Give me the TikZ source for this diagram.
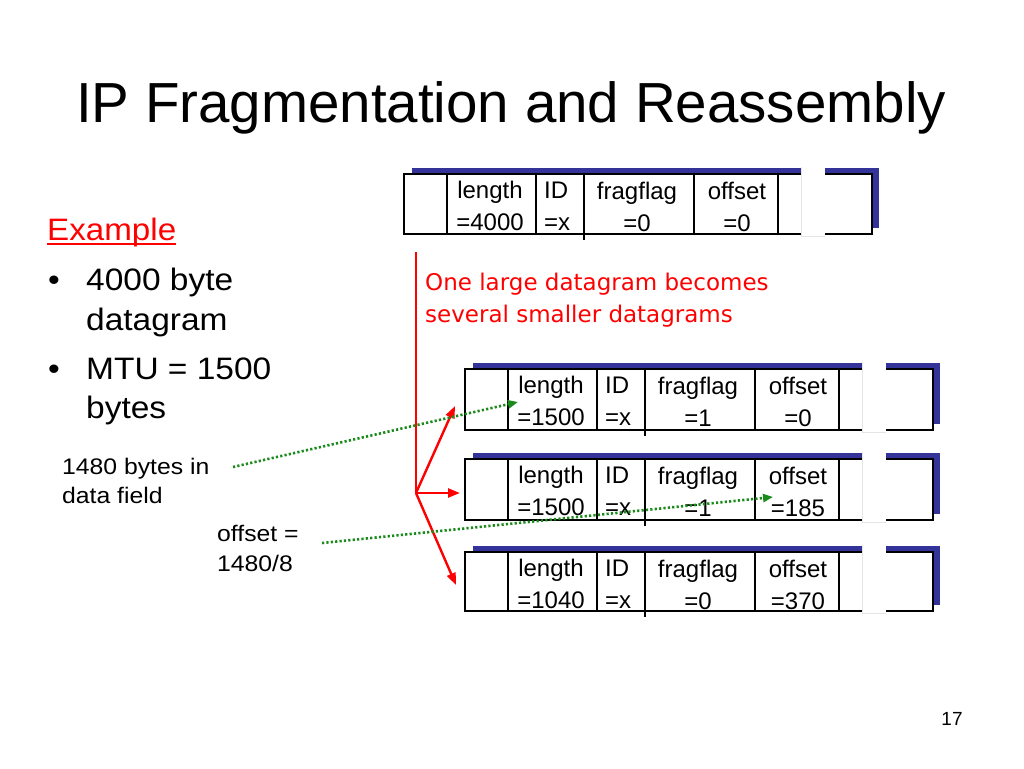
\documentclass[tikz,border=0pt]{standalone}
\usepackage{fontspec}
\setmainfont{Liberation Sans}
\newfontfamily\comicfont{DejaVu Sans}
\usetikzlibrary{arrows.meta}
\definecolor{shadowblue}{HTML}{333399}
\definecolor{dgreen}{HTML}{1A8A1A}
\definecolor{myred}{HTML}{FF0000}
\tikzset{
  boxline/.style={black, line width=2.4pt},
  field/.style={inner sep=0pt, anchor=base, font=\fontsize{24}{24}\selectfont},
  fieldl/.style={inner sep=0pt, anchor=base west, font=\fontsize{24}{24}\selectfont},
  lefttext/.style={inner sep=0pt, anchor=base west, font=\fontsize{31}{31}\selectfont},
  smalltext/.style={inner sep=0pt, anchor=base west, font=\fontsize{22.5}{22.5}\selectfont},
  redarrow/.style={myred, line width=2.4pt, -{Triangle[length=12pt,width=9pt]}},
  greenarrow/.style={dgreen, line width=2.6pt, dash pattern=on 2.2pt off 2.2pt, -{Triangle[length=10pt,width=8pt]}},
}
\newcommand\dgram[8]{%
  \fill[shadowblue] (#2+8,#3-6) rectangle (#2+475,#4-6);
  \draw[boxline, fill=white] (#2,#3) rectangle (#2+468,#4);
  \foreach \c in {43,132,290,374} {\draw[boxline] (#2+\c,#3) -- (#2+\c,#4);}
  \draw[boxline] (#2+180,#3) -- (#2+180,#4+6);
  \fill[white] (#2+397,#3-7) rectangle (#2+421,#4+2);
  \draw[gray!20, line width=0.6pt] (#2+397,#3-7) -- (#2+397,#4+2) -- (#2+421,#4+2);
  \node[field] (#1-len) at (#2+86,#3+24) {length};
  \node[field] (#1-lenv) at (#2+86,#3+56) {=#5};
  \node[fieldl] (#1-id) at (#2+140,#3+24) {ID};
  \node[fieldl] (#1-idv) at (#2+140,#3+56) {=x};
  \node[field] (#1-flag) at (#2+233,#3+25) {fragflag};
  \node[field] (#1-flagv) at (#2+233,#3+57) {=#6};
  \node[field] (#1-off) at (#2+333,#3+25) {offset};
  \node[field] (#1-offv) at (#2+333,#3+57) {=#7};
}
\begin{document}
\begin{tikzpicture}[x=1pt,y=-1pt]
\useasboundingbox[fill=white] (0,0) rectangle (1024,768);

% title
\node[inner sep=0pt, anchor=base] (title) at (511,122)
  {\fontsize{56.5}{56.5}\selectfont IP Fragmentation and Reassembly};

% left column
\node[lefttext, text=myred] (ex) at (47,240) {\scalebox{1.07}[1]{Example}};
\draw[myred, line width=2pt] ([yshift=-4pt]ex.base west) -- ([yshift=-4pt]ex.base east);
\node[lefttext] (b1) at (48,290) {\scalebox{1.08}[1]{\textbullet}};
\node[lefttext] (t1) at (86,290) {\scalebox{1.08}[1]{4000 byte}};
\node[lefttext] (t2) at (86,330) {\scalebox{1.08}[1]{datagram}};
\node[lefttext] (b2) at (48,379) {\scalebox{1.08}[1]{\textbullet}};
\node[lefttext] (t3) at (86,379) {\scalebox{1.08}[1]{MTU = 1500}};
\node[lefttext] (t4) at (86,418) {\scalebox{1.08}[1]{bytes}};

\node[smalltext] (n1) at (62,474) {\scalebox{1.1}[1]{1480 bytes in}};
\node[smalltext] (n2) at (62,503) {\scalebox{1.1}[1]{data field}};
\node[smalltext] (o1) at (217,541) {\scalebox{1.1}[1]{offset =}};
\node[smalltext] (o2) at (217,571) {\scalebox{1.1}[1]{1480/8}};

% datagrams
\dgram{top}{404}{174}{234}{4000}{0}{0}{}
\dgram{f1}{465}{369}{430}{1500}{1}{0}{}
\dgram{f2}{465}{459}{520}{1500}{1}{185}{}
\dgram{f3}{465}{552}{611}{1040}{0}{370}{}

% red annotation
\node[inner sep=0pt, anchor=base west, text=myred, font=\comicfont\fontsize{23}{23}\selectfont] (r1) at (425,290) {One large datagram becomes};
\node[inner sep=0pt, anchor=base west, text=myred, font=\comicfont\fontsize{23}{23}\selectfont] (r2) at (425,322) {several smaller datagrams};

\coordinate (rtop) at (416,252);
\coordinate (hub) at (416,493);
\coordinate (e1) at (455,406);
\coordinate (e2) at (460,493);
\coordinate (e3) at (456,585);
\draw[myred, line width=2.4pt] (rtop) -- (hub);
\draw[redarrow] (hub) -- (e1);
\draw[redarrow] (hub) -- (e2);
\draw[redarrow] (hub) -- (e3);

% green dotted arrows
\coordinate (g1s) at (233,467);
\coordinate (g1e) at (518,402);
\coordinate (g2s) at (322,543);
\coordinate (g2e) at (773,497);
\draw[greenarrow] (g1s) -- (g1e);
\draw[greenarrow] (g2s) -- (g2e);

% page number
\node[inner sep=0pt, anchor=base] (pg) at (952,725) {\fontsize{19}{19}\selectfont 17};
\end{tikzpicture}
\end{document}
